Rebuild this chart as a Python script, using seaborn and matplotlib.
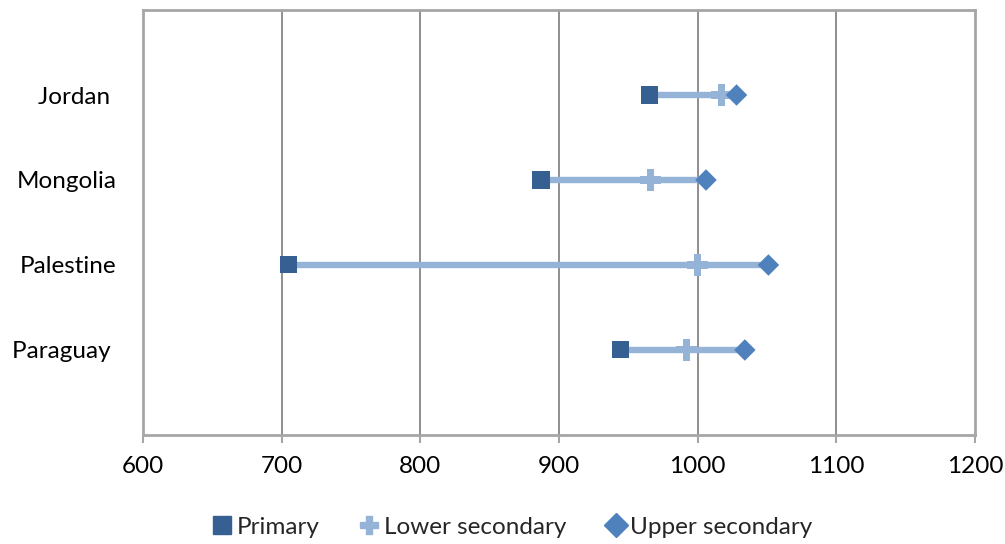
import matplotlib
matplotlib.use("Agg")
import matplotlib.pyplot as plt
from matplotlib.lines import Line2D
import seaborn as sns
import pandas as pd

countries = ["Jordan", "Mongolia", "Palestine", "Paraguay"]
tick_labels = ["Jordan ", "Mongolia", "Palestine", "Paraguay "]
primary = [965, 887, 705, 944]
lower_secondary = [1017, 966, 1000, 992]
upper_secondary = [1028, 1006, 1051, 1034]
x_ticks = [600, 700, 800, 900, 1000, 1100, 1200]

sns.set_theme(style="white")
plt.rcParams["font.family"] = ["Lato", "DejaVu Sans"]

c_prim = "#366092"
c_low = "#95B3D7"
c_up = "#4F81BD"
fs = 17.5

fig = plt.figure(figsize=(10.05, 5.44), dpi=100)
ax = fig.add_axes([0.1423, 0.2004, 0.8279, 0.7812])

ypos = [4, 3, 2, 1]
df = pd.DataFrame({"country": countries, "y": ypos, "primary": primary,
                   "lower": lower_secondary, "upper": upper_secondary})

for _, r in df.iterrows():
    lo = min(r["primary"], r["lower"], r["upper"])
    hi = max(r["primary"], r["lower"], r["upper"])
    ax.plot([lo, hi], [r["y"], r["y"]], color=c_low, lw=4.6, solid_capstyle="butt", zorder=2)

sns.scatterplot(data=df, x="lower", y="y", marker="P", s=230, color=c_low,
                edgecolor="none", ax=ax, zorder=3)
sns.scatterplot(data=df, x="primary", y="y", marker="s", s=150, color=c_prim,
                edgecolor="none", ax=ax, zorder=4)
sns.scatterplot(data=df, x="upper", y="y", marker="D", s=120, color=c_up,
                edgecolor="none", ax=ax, zorder=4)

ax.set_xlim(600, 1200)
ax.set_ylim(0, 5)
ax.set_xticks(x_ticks)
ax.set_xticklabels([str(t) for t in x_ticks], fontsize=fs, color="black")
ax.set_yticks(ypos)
ax.set_yticklabels(tick_labels, fontsize=fs, color="black")
ax.set_xlabel("")
ax.set_ylabel("")
ax.tick_params(axis="x", length=6, width=1.5, color="#A6A6A6", pad=9, direction="out")
ax.tick_params(axis="y", length=0, pad=19)
ax.tick_params(bottom=True)

for t in x_ticks[1:-1]:
    ax.axvline(t, color="#868686", lw=1.3, zorder=1)

for s in ax.spines.values():
    s.set_visible(True)
    s.set_color("#A6A6A6")
    s.set_linewidth(2)

handles = [
    Line2D([], [], marker="s", ls="none", color=c_prim, markersize=12.5),
    Line2D([], [], marker="P", ls="none", color=c_low, markersize=13.5),
    Line2D([], [], marker="D", ls="none", color=c_up, markersize=12),
]
fig.legend(handles, ["Primary", "Lower secondary", "Upper secondary"],
           loc="center", bbox_to_anchor=(0.508, 1 - 527 / 544), ncol=3,
           frameon=False, fontsize=fs, handletextpad=0.05, columnspacing=1.5,
           handlelength=1.1)

fig.savefig("out.png", dpi=100)
